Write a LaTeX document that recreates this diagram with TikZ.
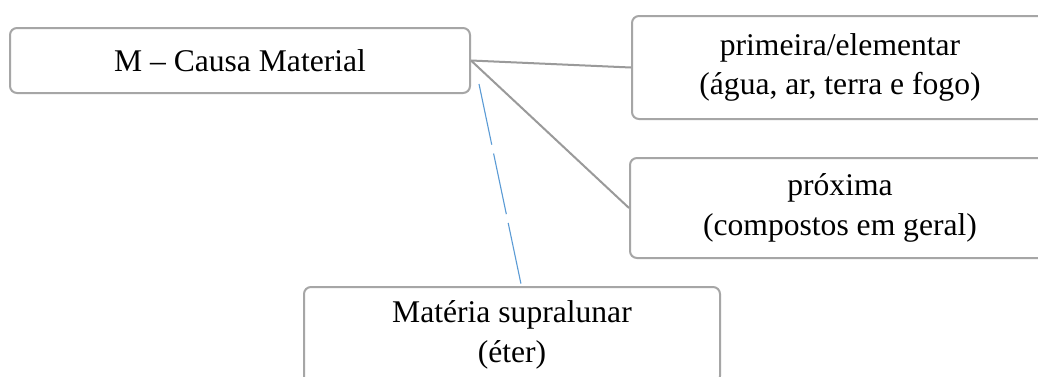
\documentclass[tikz,border=0pt]{standalone}
\usepackage{fontspec}
\setmainfont{Liberation Serif}
\definecolor{boxgray}{HTML}{A6A6A6}
\definecolor{linegray}{HTML}{9A9A9A}
\definecolor{dashblue}{HTML}{5B9BD5}
\begin{document}
\begin{tikzpicture}[x=1pt,y=-1pt,
  box/.style={draw=boxgray,line width=2pt,rounded corners=7pt,fill=white,
    align=center,inner sep=0pt,font=\fontsize{31.6}{39.5}\selectfont},
  conn/.style={draw=linegray,line width=2pt},
  blueconn/.style={draw=dashblue,line width=1.1pt,dash pattern=on 62pt off 9pt}]
\clip (0,0) rectangle (1038,376);
\fill[white] (0,0) rectangle (1038,376);
\node[box,minimum width=460pt,minimum height=65pt] (m) at (240,60.5) {M -- Causa Material};
\node[box,minimum width=416pt,minimum height=103pt] (prim) at (840,67.5) {primeira/elementar\\(água, ar, terra e fogo)};
\node[box,minimum width=420pt,minimum height=100pt] (prox) at (840,208) {próxima\\(compostos em geral)};
\node[box,minimum width=416pt,minimum height=96pt] (mat) at (512,335) {Matéria supralunar\\(éter)};
\coordinate (bstart) at (479,84);
\coordinate (bend) at (521,284);
\draw[conn] (m.east) -- (prim.west);
\draw[conn] (m.east) -- (prox.west);
\draw[blueconn] (bstart) -- (bend);
\end{tikzpicture}
\end{document}
